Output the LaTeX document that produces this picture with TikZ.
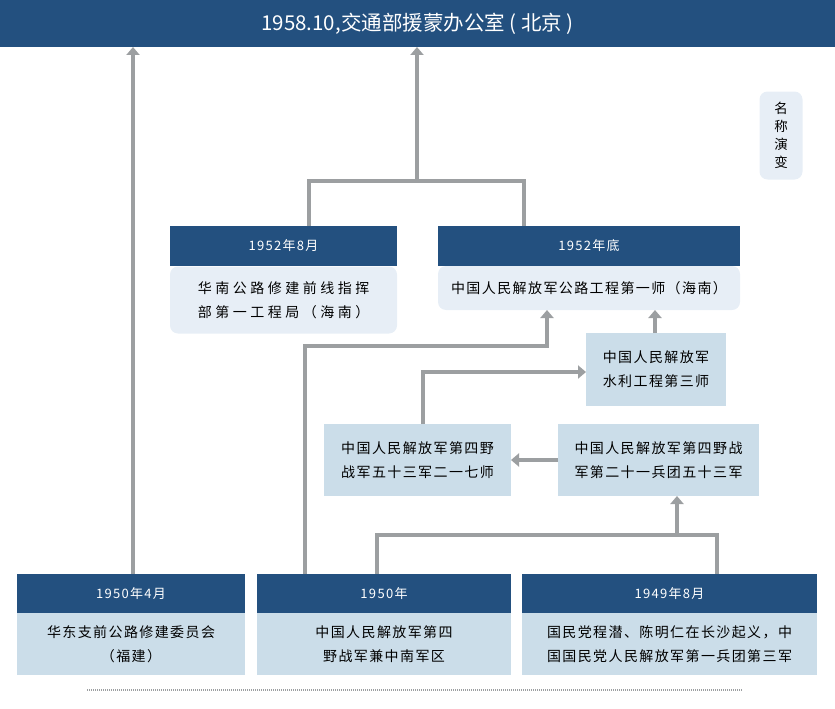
\documentclass[tikz,border=0pt]{standalone}
\usepackage{fontspec}
\setmainfont{Noto Sans CJK SC}
\newfontfamily\bodyfont[LetterSpace=10]{Noto Sans CJK SC}
\newfontfamily\widefont[LetterSpace=25]{Noto Sans CJK SC}
\usetikzlibrary{arrows.meta}
\definecolor{navy}{HTML}{23507F}
\definecolor{paleblue}{HTML}{CBDDE9}
\definecolor{mistblue}{HTML}{E7EEF6}
\definecolor{linegray}{HTML}{9C9FA1}
\begin{document}
\begin{tikzpicture}[x=1pt,y=-1pt,
  hd/.style={fill=navy,text=white,inner sep=0pt,outer sep=0pt,font=\bodyfont\fontsize{13}{16}\selectfont},
  bx/.style={fill=paleblue,inner sep=0pt,outer sep=0pt,align=center,font=\bodyfont\fontsize{14}{24}\selectfont},
  soft/.style={bx,fill=mistblue,rounded corners=8pt},
  conn/.style={draw=linegray,line width=3.2pt},
  arr/.style={conn,-{Triangle[width=13pt,length=8pt]}}]
\useasboundingbox (0,0) rectangle (835,709);
% top
\node[fill=navy,text=white,minimum width=835,minimum height=47,inner sep=0pt,outer sep=0pt,
  font=\fontsize{20.5}{24}\selectfont] (title) at (417.5,23.5) {1958.10,交通部援蒙办公室 ( 北京 )};
\node[soft,minimum width=43,minimum height=88,font=\fontsize{13.5}{18}\selectfont] (mingcheng) at (781,135.5) {名\\称\\演\\变};
% 1952
\node[soft,minimum width=227,minimum height=67,font=\widefont\fontsize{14}{24}\selectfont] (bodyA) at (283.5,300) {华南公路修建前线指挥\\部第一工程局（海南）};
\node[hd,minimum width=227,minimum height=40] (hdA) at (283.5,246) {1952年8月};
\node[soft,minimum width=302,minimum height=44] (bodyB) at (589,288) {中国人民解放军公路工程第一师（海南）};
\node[hd,minimum width=302,minimum height=40] (hdB) at (589,246) {1952年底};
% middle
\node[bx,minimum width=140,minimum height=73] (shuili) at (656,369.5) {中国人民解放军\\水利工程第三师};
\node[bx,minimum width=187,minimum height=72] (div217) at (417.5,460) {中国人民解放军第四野\\战军五十三军二一七师};
\node[bx,minimum width=201,minimum height=72] (jun53) at (658.5,460) {中国人民解放军第四野战\\军第二十一兵团五十三军};
% bottom
\node[hd,minimum width=228,minimum height=39] (hdYrA) at (131,593.5) {1950年4月};
\node[bx,minimum width=228,minimum height=62] (bodyYrA) at (131,644) {华东支前公路修建委员会\\（福建）};
\node[hd,minimum width=254,minimum height=39] (hdYr50) at (384,593.5) {1950年};
\node[bx,minimum width=254,minimum height=62] (bodyYr50) at (384,644) {中国人民解放军第四\\野战军兼中南军区};
\node[hd,minimum width=295,minimum height=39] (hdYr49) at (669.5,593.5) {1949年8月};
\node[bx,minimum width=295,minimum height=62] (bodyYr49) at (669.5,644) {国民党程潜、陈明仁在长沙起义，中\\国国民党人民解放军第一兵团第三军};
\draw[linegray,line width=2pt,dash pattern=on 1pt off 1pt] (87,690) -- (742,690);
% connectors
\coordinate (jn) at (417,181);
\coordinate (b1) at (547,346);
\coordinate (b2) at (677,535);
\draw[arr] ([xshift=2pt]hdYrA.north) -- ([xshift=2pt]hdYrA.north |- title.south);
\draw[conn] ([xshift=25.5pt]hdA.north) |- (jn) -| ([xshift=-65pt]hdB.north);
\draw[arr] (jn) -- (jn |- title.south);
\draw[arr] ([xshift=-79pt]hdYr50.north) |- (b1) -- (b1 |- bodyB.south);
\draw[arr] ([xshift=-1pt]shuili.north) -- ([xshift=-1pt]shuili.north |- bodyB.south);
\draw[arr] ([xshift=5.5pt]div217.north) |- ([yshift=-2.5pt]shuili.west);
\draw[arr] (jun53.west) -- (div217.east);
\draw[conn] ([xshift=-7pt]hdYr50.north) |- (b2) -| ([xshift=47.5pt]hdYr49.north);
\draw[arr] (b2) -- (b2 |- jun53.south);
\end{tikzpicture}
\end{document}
